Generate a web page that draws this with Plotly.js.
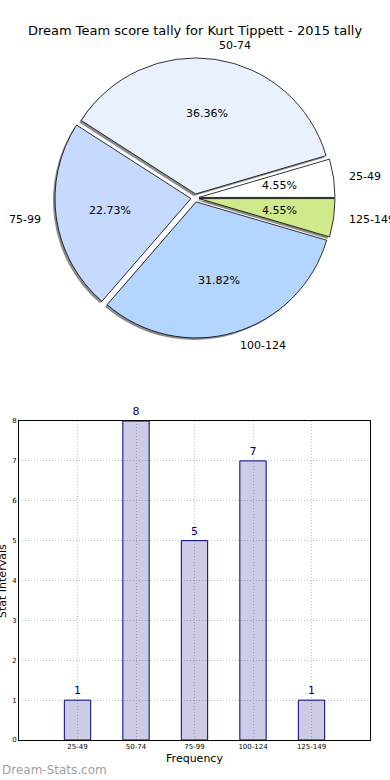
<!DOCTYPE html>
<html><head><meta charset="utf-8">
<script src="https://cdn.plot.ly/plotly-3.0.1.min.js"></script>
<style>html,body{margin:0;padding:0;background:#fff}#chart{width:390px;height:780px}</style>
</head><body><div id="chart"></div>
<script>
// ---- data ----
const categories = ['25-49', '50-74', '75-99', '100-124', '125-149'];
const counts = [1, 8, 5, 7, 1];
const yTicks = [0, 1, 2, 3, 4, 5, 6, 7, 8];
const titleText = 'Dream Team score tally for Kurt Tippett - 2015 tally';
const xTitle = 'Frequency';
const yTitle = 'Stat Intervals';
const watermark = 'Dream-Stats.com';

// ---- styles ----
const pieColors = ['#ffffff', '#eaf1fe', '#c6d9fe', '#b4d5fe', '#cfe98b'];
const piePull = [0.03, 0.03, 0.03, 0.03, 0.03];
const FONT = 'DejaVu Sans, Verdana, sans-serif';
const W = 390, H = 780;
const pieCx = 195, pieCy = 198, pieR = 136;

const maxPull = Math.max(...piePull);
const half = pieR * (1 + maxPull);
function pieDomain(dx, dy) {
  return {
    x: [(pieCx - half + dx) / W, (pieCx + half + dx) / W],
    y: [1 - (pieCy + half + dy) / H, 1 - (pieCy - half + dy) / H]
  };
}

const total = counts.reduce((a, b) => a + b, 0);
// Plotly's counterclockwise pies end the first slice at the rotation angle,
// so shift by the first slice to make it start at 3 o'clock (like matplotlib).
const startRotation = 90 - 360 * counts[0] / total;

const annotations = [];
let cum = 0;
counts.forEach((v, i) => {
  const th = 2 * Math.PI * (cum + v / 2) / total;
  cum += v;
  const off = piePull[i] * pieR;
  const c = Math.cos(th), s = Math.sin(th);
  const ld = off + 1.1 * pieR;
  annotations.push({
    xref: 'paper', yref: 'paper', x: (pieCx + ld * c) / W, y: 1 - (pieCy - ld * s) / H,
    text: categories[i], showarrow: false, xanchor: c > 0 ? 'left' : 'right', yanchor: 'middle',
    font: {family: FONT, size: 11, color: '#000'}
  });
  const pd = off + 0.6 * pieR;
  annotations.push({
    xref: 'paper', yref: 'paper', x: (pieCx + pd * c) / W, y: 1 - (pieCy - pd * s) / H,
    text: (100 * v / total).toFixed(2) + '%', showarrow: false, xanchor: 'center', yanchor: 'middle',
    font: {family: FONT, size: 11, color: '#000'}
  });
});
annotations.push({
  xref: 'paper', yref: 'paper', x: 0, y: 1 - 770 / H, xanchor: 'left', yanchor: 'middle',
  text: watermark, showarrow: false, font: {family: FONT, size: 12, color: '#a0a0a0'}
});
annotations.push({
  xref: 'paper', yref: 'paper', x: 2 / W, y: 1 - 581 / H, xanchor: 'center', yanchor: 'middle',
  text: yTitle, textangle: -90, showarrow: false, font: {family: FONT, size: 11, color: '#000'}
});

const shadowPie = {
  type: 'pie', values: counts, labels: categories, sort: false, direction: 'counterclockwise',
  rotation: startRotation, pull: piePull, textinfo: 'none', hoverinfo: 'skip', showlegend: false,
  marker: {colors: counts.map(() => 'rgba(0,0,0,0.45)'), line: {width: 0}},
  domain: pieDomain(-2, 2)
};
const mainPie = {
  type: 'pie', values: counts, labels: categories, sort: false, direction: 'counterclockwise',
  rotation: startRotation, pull: piePull, textinfo: 'none', showlegend: false,
  marker: {colors: pieColors, line: {color: '#000', width: 0.8}},
  domain: pieDomain(0, 0)
};
const bars = {
  type: 'bar', x: categories, y: counts, xaxis: 'x', yaxis: 'y', width: 0.45,
  marker: {color: 'rgba(0,0,128,0.2)', line: {color: '#000080', width: 1}},
  text: counts.map(String), textposition: 'outside', cliponaxis: false,
  textfont: {family: FONT, size: 11, color: '#000080'}, showlegend: false
};

const gridStyle = {showgrid: true, gridcolor: '#c4c4c4', griddash: '1px,2px', gridwidth: 1};

const layout = {
  width: W, height: H, margin: {l: 0, r: 0, t: 0, b: 0},
  paper_bgcolor: '#fff', plot_bgcolor: 'rgba(0,0,0,0)', showlegend: false,
  font: {family: FONT, color: '#000'},
  title: {text: titleText, x: 0.5, xanchor: 'center', y: 1 - 30 / H, yanchor: 'middle',
          font: {family: FONT, size: 13, color: '#000'}},
  xaxis: Object.assign({
    domain: [19 / W, 370 / W], anchor: 'y', type: 'category', categoryarray: categories,
    range: [-1, 5], showline: true, linecolor: '#000', linewidth: 1, mirror: true, zeroline: false,
    ticks: '', tickfont: {family: FONT, size: 7, color: '#000'}, automargin: false,
    title: {text: xTitle, font: {family: FONT, size: 11, color: '#000'}, standoff: 3}
  }, gridStyle),
  yaxis: Object.assign({
    domain: [1 - 740 / H, 1 - 421 / H], anchor: 'x', range: [0, 8], tickvals: yTicks,
    showline: true, linecolor: '#000', linewidth: 1, mirror: true, zeroline: false,
    ticks: '', tickfont: {family: FONT, size: 7, color: '#000'}, automargin: false
  }, gridStyle),
  annotations: annotations
};

Plotly.newPlot('chart', [shadowPie, mainPie, bars], layout, {displayModeBar: false, staticPlot: true});
</script>
</body></html>
